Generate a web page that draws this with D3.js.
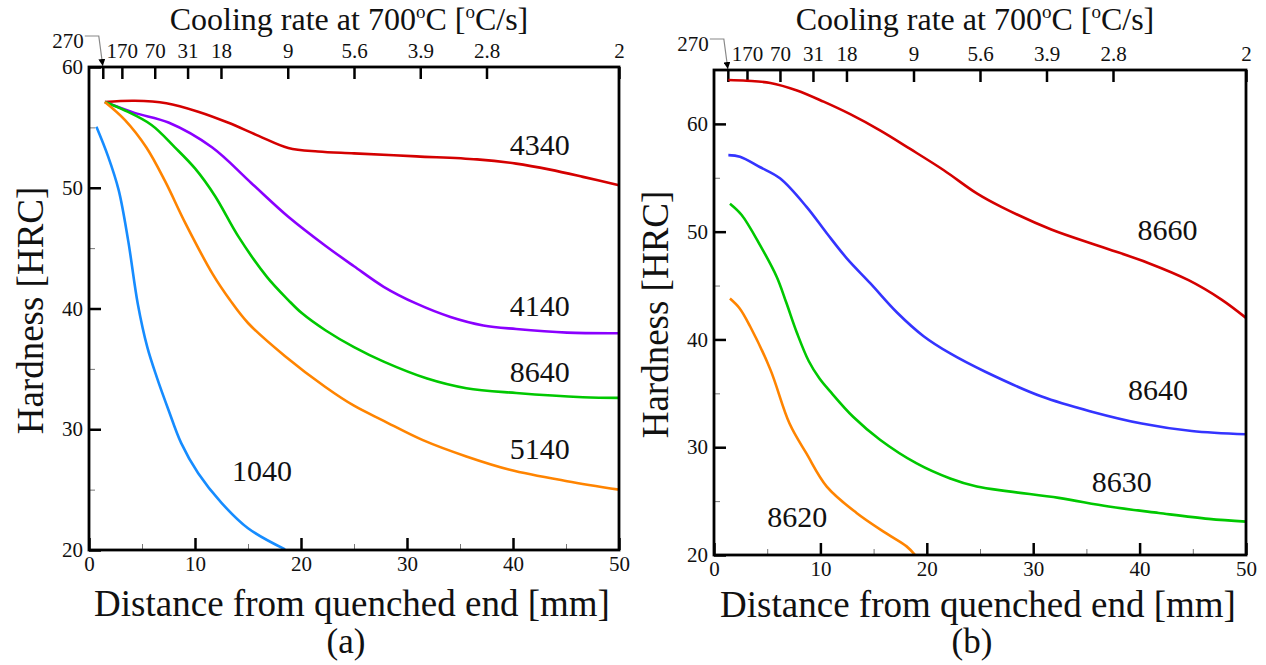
<!DOCTYPE html>
<html>
<head>
<meta charset="utf-8">
<script src="https://cdn.jsdelivr.net/npm/d3@7"></script>
<style>
  body { margin: 0; background: #fff; }
  text { font-family: "Liberation Serif", "Times New Roman", serif; fill: #111; }
</style>
</head>
<body>
<div id="graph"></div>
<script>
"use strict";

// Jominy end-quench hardness curves
// [distance mm, hardness HRC]
var steel4340 = [[1.5, 57.1], [4.3, 57.2], [7.3, 57.0], [10.3, 56.3], [13.1, 55.4], [16.0, 54.3],
    [18.8, 53.3], [21.6, 53.0], [25.0, 52.85], [30.9, 52.6], [36.6, 52.35], [40.3, 52.0],
    [43.5, 51.5], [46.6, 50.9], [50, 50.2]];
var steel4140 = [[1.5, 57.1], [4.3, 56.2], [7.5, 55.4], [11.6, 53.35], [15.3, 50.4], [18.8, 47.6],
    [22.3, 45.2], [25.0, 43.5], [27.8, 41.8], [30.9, 40.4], [34.1, 39.3], [37.2, 38.6],
    [40.3, 38.3], [45.1, 38.0], [50, 37.95]];
var steel8640a = [[1.5, 57.1], [3.4, 56.4], [5.9, 55.2], [8.1, 53.35], [10.0, 51.6], [11.9, 49.3],
    [14.1, 45.95], [16.8, 42.6], [18.8, 40.7], [20.1, 39.6], [22.3, 38.2], [25.0, 36.8],
    [27.8, 35.6], [31.9, 34.2], [35.6, 33.4], [40.3, 33.0], [46.6, 32.65], [50, 32.6]];
var steel5140 = [[1.5, 57.1], [3.4, 55.6], [5.4, 53.35], [7.2, 50.5], [9.1, 47.05], [11.7, 42.8],
    [13.3, 40.7], [15.0, 38.8], [18.5, 36.05], [22.3, 33.5], [25.0, 31.95], [27.8, 30.7],
    [31.5, 29.1], [35.6, 27.75], [39.7, 26.65], [45.1, 25.7], [50, 25.0]];
var steel1040 = [[0.7, 55.05], [1.8, 52.6], [2.8, 49.8], [3.7, 45.6], [4.6, 40.4], [5.5, 36.8],
    [6.4, 34.3], [7.5, 31.6], [8.7, 28.85], [10.3, 26.35], [12.5, 23.9], [15.0, 21.8], [18.5, 20.05]];

var steel8660 = [[1.35, 64.07], [3.07, 64.0], [5.3, 63.8], [7.8, 63.1], [10.3, 62.06], [12.8, 60.9],
    [15.6, 59.4], [18.4, 57.7], [21.6, 55.7], [24.7, 53.55], [27.0, 52.3], [31.7, 50.2],
    [36.4, 48.6], [40.8, 47.1], [44.6, 45.5], [47.7, 43.7], [50, 42.0]];
var steel8640b = [[1.35, 57.1], [2.44, 56.96], [4.3, 56.0], [6.2, 54.95], [8.7, 52.3], [10.6, 49.85],
    [12.5, 47.5], [14.7, 45.2], [17.2, 42.5], [19.7, 40.3], [22.2, 38.7], [25.5, 37.0],
    [30.8, 34.7], [35.5, 33.3], [40.2, 32.2], [44.9, 31.5], [50, 31.2]];
var steel8630 = [[1.5, 52.6], [2.6, 51.55], [4.3, 48.8], [5.9, 45.8], [6.8, 43.4], [7.8, 40.6],
    [8.9, 38.0], [9.9, 36.4], [10.9, 35.2], [13.1, 32.8], [15.6, 30.7], [19.05, 28.5], [22.2, 27.1],
    [24.7, 26.35], [27.7, 25.9], [32.4, 25.3], [37.1, 24.5], [41.8, 23.9], [46.5, 23.35], [50, 23.1]];
var steel8620 = [[1.5, 43.8], [2.4, 42.9], [3.4, 41.2], [5.3, 37.2], [7.1, 32.2], [8.7, 29.4],
    [10.6, 26.35], [13.4, 23.9], [16.2, 22.0], [18.1, 20.8], [18.9, 20.0]];

// cooling-rate axis: tick distance (mm) and label
var coolDist = [1.3, 3.1, 6.2, 9.3, 12.45, 18.75, 25, 31.25, 37.5, 50];
var coolLabels = ["270", "170", "70", "31", "18", "9", "5.6", "3.9", "2.8", "2"];

var distTicks = [0, 10, 20, 30, 40, 50];
var distMinor = [5, 15, 25, 35, 45];
var hrcTicksA = [20, 30, 40, 50, 60];
var hrcMinorA = [25, 35, 45, 55];
var hrcTicksB = [20, 30, 40, 50, 60];
var hrcMinorB = [25, 35, 45, 55];

var width = 1266, height = 665;
var svg = d3.select("#graph").append("svg")
    .attr("width", width).attr("height", height);

svg.append("defs").append("marker")
    .attr("id", "arrow")
    .attr("viewBox", "0 0 10 10")
    .attr("refX", 10).attr("refY", 5)
    .attr("markerWidth", 7).attr("markerHeight", 7)
    .attr("markerUnits", "userSpaceOnUse")
    .attr("orient", "auto")
    .append("path").attr("d", "M0,0L10,5L0,10z").attr("fill", "#000");

var panels = [
    {
        left: 89, right: 619, top: 67, bottom: 550,
        yDomain: [20, 60], yTicks: hrcTicksA, yMinor: hrcMinorA,
        tag: "(a)",
        series: [
            {data: steel4340, color: "#d40000", name: "4340", lx: 39.7, ly: 52.7},
            {data: steel4140, color: "#8a00ff", name: "4140", lx: 39.7, ly: 39.4},
            {data: steel8640a, color: "#00c800", name: "8640", lx: 39.7, ly: 33.9},
            {data: steel5140, color: "#ff8400", name: "5140", lx: 39.7, ly: 27.5},
            {data: steel1040, color: "#168cff", name: "1040", lx: 13.5, ly: 25.7}
        ]
    },
    {
        left: 714, right: 1246, top: 70, bottom: 555,
        yDomain: [20, 65], yTicks: hrcTicksB, yMinor: hrcMinorB,
        tag: "(b)",
        series: [
            {data: steel8660, color: "#d40000", name: "8660", lx: 39.8, ly: 49.2},
            {data: steel8640b, color: "#3434ff", name: "8640", lx: 38.9, ly: 34.4},
            {data: steel8630, color: "#00c800", name: "8630", lx: 35.5, ly: 25.8},
            {data: steel8620, color: "#ff8400", name: "8620", lx: 5.0, ly: 22.6}
        ]
    }
];

panels.forEach(drawPanel);

function drawPanel(p) {
    var x = d3.scaleLinear().domain([0, 50]).range([p.left, p.right]);
    var y = d3.scaleLinear().domain(p.yDomain).range([p.bottom, p.top]);
    var g = svg.append("g");
    var cx = (p.left + p.right) / 2;

    // minor ticks
    g.append("g")
        .attr("transform", "translate(0," + p.bottom + ")")
        .call(d3.axisBottom(x).tickValues(distMinor).tickSize(-6).tickFormat(""))
        .call(styleAxis, "#777", 1);
    g.append("g")
        .attr("transform", "translate(" + p.left + ",0)")
        .call(d3.axisLeft(y).tickValues(p.yMinor).tickSize(-6).tickFormat(""))
        .call(styleAxis, "#777", 1);

    // major ticks
    g.append("g")
        .attr("transform", "translate(0," + p.bottom + ")")
        .call(d3.axisBottom(x).tickValues(distTicks).tickSize(-12).tickPadding(6))
        .call(styleAxis, "#000", 2.5);
    g.append("g")
        .attr("transform", "translate(" + p.left + ",0)")
        .call(d3.axisLeft(y).tickValues(p.yTicks).tickSize(-12).tickPadding(6))
        .call(styleAxis, "#000", 2.5);

    var top = d3.axisTop(x).tickValues(coolDist).tickSize(-12).tickPadding(9)
        .tickFormat(function (d, i) { return i === 0 ? "" : coolLabels[i]; });
    g.append("g")
        .attr("transform", "translate(0," + p.top + ")")
        .call(top)
        .call(styleAxis, "#000", 2.5);

    g.selectAll(".tick text")
        .style("font-family", "'Liberation Serif', serif")
        .style("font-size", "21px")
        .attr("fill", "#111");

    // 270 label with leader arrow
    var x0 = x(coolDist[0]);
    g.append("text")
        .attr("x", x0 - 19).attr("y", p.top - 19)
        .attr("text-anchor", "end")
        .style("font-size", "21px")
        .text(coolLabels[0]);
    g.append("path")
        .attr("d", "M" + (x0 - 18) + "," + (p.top - 31) + "H" + (x0 - 4) + "L" + x0 + "," + (p.top - 1))
        .attr("fill", "none")
        .attr("stroke", "#888")
        .attr("stroke-width", 1.2)
        .attr("marker-end", "url(#arrow)");

    // curves
    var line = d3.line()
        .x(function (d) { return x(d[0]); })
        .y(function (d) { return y(d[1]); })
        .curve(d3.curveCatmullRom.alpha(0.5));

    p.series.forEach(function (s) {
        g.append("path")
            .datum(s.data)
            .attr("d", line)
            .attr("fill", "none")
            .attr("stroke", s.color)
            .attr("stroke-width", 2.6)
            .attr("stroke-linejoin", "round");
        g.append("text")
            .attr("x", x(s.lx)).attr("y", y(s.ly))
            .style("font-size", "30px")
            .text(s.name);
    });

    // frame
    g.append("rect")
        .attr("x", p.left).attr("y", p.top)
        .attr("width", p.right - p.left).attr("height", p.bottom - p.top)
        .attr("fill", "none")
        .attr("stroke", "#000")
        .attr("stroke-width", 2.8);

    // titles
    var t = g.append("text")
        .attr("x", cx - 5).attr("y", 30)
        .attr("text-anchor", "middle")
        .style("font-size", "32px");
    t.append("tspan").text("Cooling rate at 700");
    t.append("tspan").attr("dy", -12).style("font-size", "19px").text("o");
    t.append("tspan").attr("dy", 12).text("C [");
    t.append("tspan").attr("dy", -12).style("font-size", "19px").text("o");
    t.append("tspan").attr("dy", 12).text("C/s]");

    g.append("text")
        .attr("x", cx - 2).attr("y", Math.min(p.bottom + 66, 617))
        .attr("text-anchor", "middle")
        .style("font-size", "37px")
        .text("Distance from quenched end [mm]");

    g.append("text")
        .attr("transform", "translate(" + (p.left - 46) + "," + ((p.top + p.bottom) / 2 + 2) + ") rotate(-90)")
        .attr("text-anchor", "middle")
        .style("font-size", "37px")
        .text("Hardness [HRC]");

    g.append("text")
        .attr("x", cx - 8).attr("y", 653)
        .attr("text-anchor", "middle")
        .style("font-size", "35px")
        .text(p.tag);
}

function styleAxis(a, color, w) {
    a.select(".domain").remove();
    a.selectAll(".tick line").attr("stroke", color).attr("stroke-width", w);
}
</script>
</body>
</html>
